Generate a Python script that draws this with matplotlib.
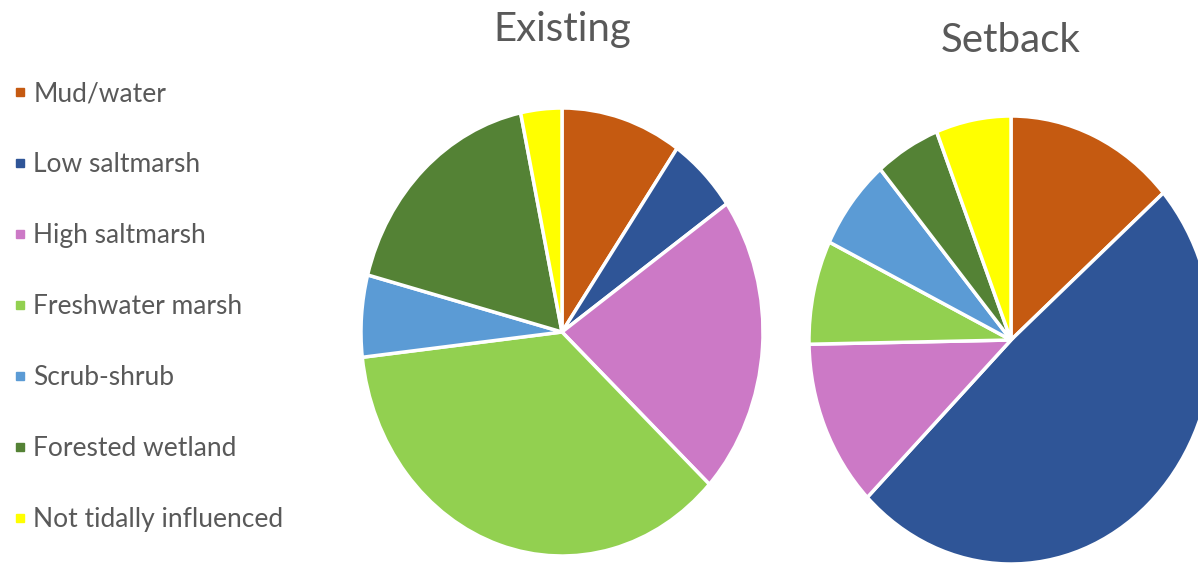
import matplotlib
matplotlib.use('Agg')
import matplotlib.pyplot as plt
from matplotlib.lines import Line2D

plt.rcParams['font.family'] = ['Lato', 'DejaVu Sans']

categories = ['Mud/water', 'Low saltmarsh', 'High saltmarsh', 'Freshwater marsh',
              'Scrub-shrub', 'Forested wetland', 'Not tidally influenced']
colors = ['#C55A11', '#2F5597', '#CC79C6', '#92D050', '#5B9BD5', '#548235', '#FFFF00']

# percent of area in each class
existing = [9.7, 5.6, 21.6, 36.3, 5.9, 17.6, 3.3]
setback = [13.6, 49.0, 12.1, 7.5, 6.6, 5.2, 6.0]

W, H = 1198, 565
fig = plt.figure(figsize=(W / 100, H / 100), dpi=100)

def pie_axes(cx, cy, rx, ry):
    ax = fig.add_axes([(cx - rx) / W, (H - cy - ry) / H, 2 * rx / W, 2 * ry / H])
    return ax

def draw_pie(ax, values, title, title_y):
    ax.pie(values, colors=colors, startangle=90, counterclock=False,
           wedgeprops=dict(edgecolor='white', linewidth=2.5))
    ax.set_aspect('auto')
    ax.set_xlim(-1, 1)
    ax.set_ylim(-1, 1)
    ax.axis('off')
    fig.text(ax.get_position().x0 + ax.get_position().width / 2, 1 - title_y / H, title,
             ha='center', va='center', fontsize=29, color='#595959')

ax1 = pie_axes(562, 332, 201, 224)
draw_pie(ax1, existing, 'Existing', 30)

ax2 = pie_axes(1011, 340, 202, 224)
draw_pie(ax2, setback, 'Setback', 40)

handles = [Line2D([], [], marker='s', linestyle='none', markersize=6,
                  markerfacecolor=c, markeredgecolor=c) for c in colors]
fig.legend(handles, categories, loc='upper left', bbox_to_anchor=(-0.004, 1 - 63 / H),
           frameon=False, fontsize=19, labelcolor='#595959', handlelength=0.45,
           handletextpad=0.3, labelspacing=1.74, borderaxespad=0.3)

fig.savefig('out.png', dpi=100)
